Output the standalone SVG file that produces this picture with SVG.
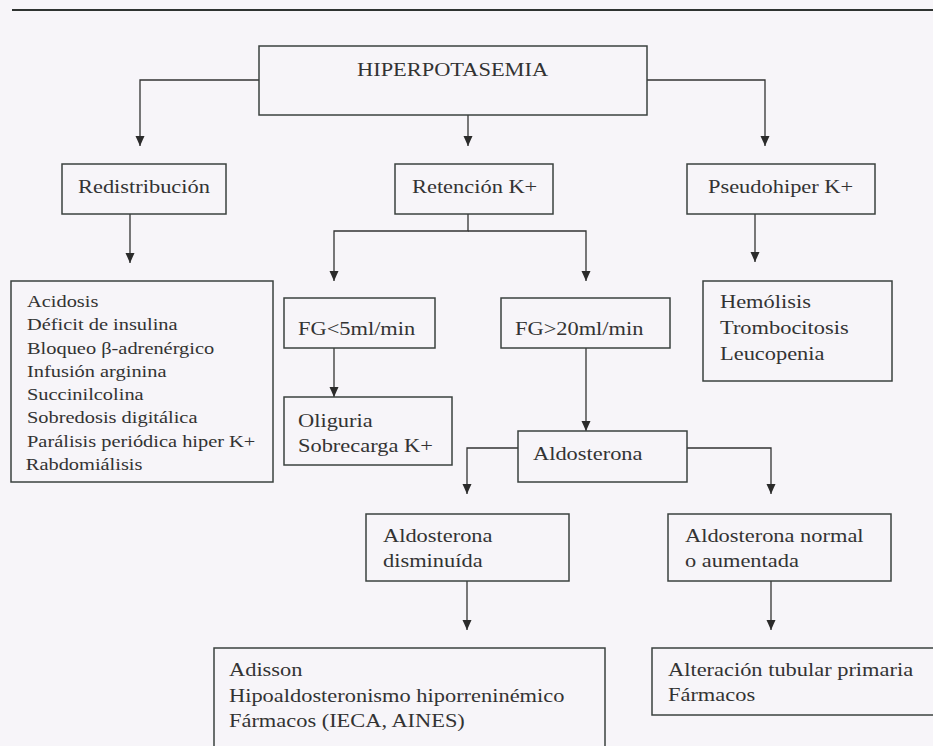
<svg xmlns="http://www.w3.org/2000/svg" width="933" height="746" viewBox="0 0 933 746">
<defs>
<style>
.bx{fill:none;stroke:#3b423f;stroke-width:1.5}
.t{font-family:"Liberation Serif","Times New Roman",serif;font-size:19px;fill:#333333}
.s{font-family:"Liberation Serif","Times New Roman",serif;font-size:17px;fill:#333333}
.c{fill:none;stroke:#333333;stroke-width:1.3}
</style>
<marker id="ah" markerUnits="userSpaceOnUse" markerWidth="10" markerHeight="10" refX="10" refY="4.5" orient="auto">
<path d="M0,0 L10,4.5 L0,9 z" fill="#2b2b2b"/>
</marker>
</defs>
<rect x="0" y="0" width="933" height="746" fill="#f7f5f9"/>
<line x1="12" y1="10" x2="933" y2="10" stroke="#2f3331" stroke-width="2.2"/>

<g id="connectors">
<path class="c" d="M259,80 H140 V146" marker-end="url(#ah)"/>
<path class="c" d="M468,115 V146" marker-end="url(#ah)"/>
<path class="c" d="M647,80 H765 V146" marker-end="url(#ah)"/>
<path class="c" d="M130,214 V263" marker-end="url(#ah)"/>
<path class="c" d="M468,214 V231 H334 V281" marker-end="url(#ah)"/>
<path class="c" d="M468,231 H586 V281" marker-end="url(#ah)"/>
<path class="c" d="M755,214 V262" marker-end="url(#ah)"/>
<path class="c" d="M334,348 V397" marker-end="url(#ah)"/>
<path class="c" d="M586,348 V431" marker-end="url(#ah)"/>
<path class="c" d="M518,448 H467 V494" marker-end="url(#ah)"/>
<path class="c" d="M687,448 H771 V494" marker-end="url(#ah)"/>
<path class="c" d="M467,581 V630" marker-end="url(#ah)"/>
<path class="c" d="M771,581 V630" marker-end="url(#ah)"/>
</g>

<g id="hiperpotasemia">
<rect class="bx" x="259" y="46" width="388" height="69"/>
<text class="t" transform="translate(357 76) scale(1.18 1)">HIPERPOTASEMIA</text>
</g>

<g id="redistribucion">
<rect class="bx" x="62" y="164" width="164" height="50"/>
<text class="t" transform="translate(78 193) scale(1.18 1)">Redistribución</text>
</g>

<g id="retencion">
<rect class="bx" x="395" y="164" width="158" height="50"/>
<text class="t" transform="translate(412 193) scale(1.18 1)">Retención K+</text>
</g>

<g id="pseudohiper">
<rect class="bx" x="687" y="164" width="188" height="50"/>
<text class="t" transform="translate(708 193) scale(1.18 1)">Pseudohiper K+</text>
</g>

<g id="causas-redistribucion">
<rect class="bx" x="11" y="281" width="262" height="201"/>
<text class="s" transform="translate(27 307) scale(1.2 1)">
<tspan x="0" y="0">Acidosis</tspan>
<tspan x="0" y="23.3">Déficit de insulina</tspan>
<tspan x="0" y="46.6">Bloqueo β-adrenérgico</tspan>
<tspan x="0" y="69.9">Infusión arginina</tspan>
<tspan x="0" y="93.2">Succinilcolina</tspan>
<tspan x="0" y="116.5">Sobredosis digitálica</tspan>
<tspan x="0" y="139.8">Parálisis periódica hiper K+</tspan>
<tspan x="-1" y="163.1">Rabdomiálisis</tspan>
</text>
</g>

<g id="fg-menor-5">
<rect class="bx" x="284" y="298" width="151" height="50"/>
<text class="t" transform="translate(298 335) scale(1.18 1)">FG&lt;5ml/min</text>
</g>

<g id="fg-mayor-20">
<rect class="bx" x="501" y="298" width="169" height="50"/>
<text class="t" transform="translate(515 335) scale(1.18 1)">FG&gt;20ml/min</text>
</g>

<g id="causas-pseudohiper">
<rect class="bx" x="703" y="281" width="189" height="100"/>
<text class="t" transform="translate(720 308) scale(1.18 1)">
<tspan x="0" y="0">Hemólisis</tspan>
<tspan x="0" y="26">Trombocitosis</tspan>
<tspan x="0" y="52">Leucopenia</tspan>
</text>
</g>

<g id="oliguria">
<rect class="bx" x="284" y="397" width="168" height="68"/>
<text class="t" transform="translate(298 427) scale(1.18 1)">
<tspan x="0" y="0">Oliguria</tspan>
<tspan x="0" y="25">Sobrecarga K+</tspan>
</text>
</g>

<g id="aldosterona">
<rect class="bx" x="518" y="431" width="169" height="51"/>
<text class="t" transform="translate(533 460) scale(1.18 1)">Aldosterona</text>
</g>

<g id="aldosterona-disminuida">
<rect class="bx" x="366" y="514" width="203" height="67"/>
<text class="t" transform="translate(383 542) scale(1.18 1)">
<tspan x="0" y="0">Aldosterona</tspan>
<tspan x="0" y="25">disminuída</tspan>
</text>
</g>

<g id="aldosterona-normal">
<rect class="bx" x="668" y="514" width="223" height="67"/>
<text class="t" transform="translate(685 542) scale(1.18 1)">
<tspan x="0" y="0">Aldosterona normal</tspan>
<tspan x="0" y="25">o aumentada</tspan>
</text>
</g>

<g id="causas-disminuida">
<rect class="bx" x="214" y="648" width="391" height="120"/>
<text class="t" transform="translate(229 676) scale(1.18 1)">
<tspan x="0" y="0">Adisson</tspan>
<tspan x="0" y="26">Hipoaldosteronismo hiporreninémico</tspan>
<tspan x="0" y="51">Fármacos (IECA, AINES)</tspan>
</text>
</g>

<g id="causas-normal">
<rect class="bx" x="652" y="648" width="300" height="67"/>
<text class="t" transform="translate(668 676) scale(1.18 1)">
<tspan x="0" y="0">Alteración tubular primaria</tspan>
<tspan x="0" y="25">Fármacos</tspan>
</text>
</g>
</svg>
